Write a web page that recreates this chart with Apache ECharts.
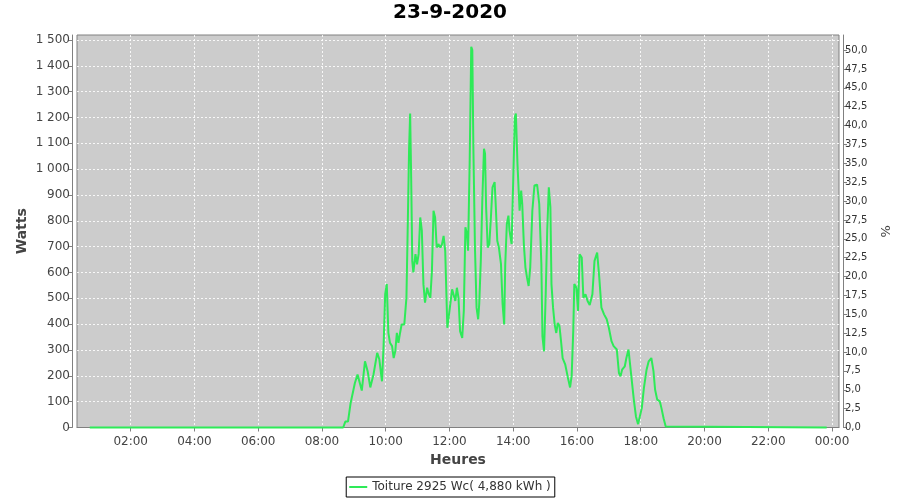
<!DOCTYPE html>
<html><head><meta charset="utf-8">
<script src="https://cdn.jsdelivr.net/npm/echarts@6/dist/echarts.min.js"></script>
<style>html,body{margin:0;padding:0;background:#fff}#c{width:900px;height:500px}</style>
</head><body><div id="c"></div>
<script>
const chartTitle = '23-9-2020';
const seriesName = 'Toiture 2925 Wc( 4,880 kWh )';
const times = ["00:43","08:40","08:44","08:49","08:54","09:02","09:07","09:10","09:15","09:21","09:26","09:31","09:37","09:44","09:48","09:53","09:56","09:59","10:02","10:05","10:08","10:12","10:15","10:18","10:21","10:24","10:27","10:30","10:35","10:39","10:41","10:44","10:46","10:48","10:50","10:52","10:56","10:59","11:02","11:05","11:08","11:11","11:14","11:18","11:21","11:24","11:27","11:30","11:33","11:36","11:39","11:43","11:46","11:49","11:52","11:56","12:00","12:05","12:08","12:11","12:14","12:17","12:20","12:24","12:27","12:30","12:33","12:35","12:38","12:41","12:43","12:45","12:48","12:51","12:54","12:56","12:59","13:02","13:05","13:07","13:09","13:12","13:15","13:18","13:21","13:25","13:27","13:30","13:33","13:37","13:40","13:43","13:45","13:48","13:51","13:53","13:57","14:00","14:03","14:05","14:08","14:12","14:15","14:17","14:20","14:23","14:26","14:29","14:32","14:36","14:40","14:45","14:49","14:53","14:55","14:58","15:01","15:04","15:07","15:10","15:12","15:15","15:18","15:21","15:24","15:27","15:30","15:33","15:38","15:43","15:47","15:50","15:53","15:55","15:59","16:02","16:05","16:09","16:12","16:16","16:20","16:24","16:29","16:33","16:38","16:42","16:46","16:51","16:56","17:00","17:05","17:09","17:15","17:19","17:22","17:25","17:30","17:33","17:37","17:40","17:44","17:47","17:51","17:55","17:58","18:02","18:06","18:11","18:15","18:20","18:24","18:27","18:31","18:36","18:39","18:43","18:47","18:50","23:50"];
const watts = [0,0,23,23,95,172,205,200,143,256,218,155,205,289,264,179,315,516,555,366,328,315,269,295,366,328,366,399,399,502,723,1079,1215,956,645,600,671,632,672,813,762,555,483,541,516,502,606,839,813,697,710,697,710,742,684,386,451,535,529,490,541,502,373,347,451,775,749,684,1021,1474,1461,1085,697,464,419,477,645,891,1079,1060,852,697,710,813,930,950,865,723,697,632,477,399,632,788,820,762,710,956,1202,1215,1021,839,917,865,710,619,580,548,619,839,937,940,865,632,354,295,502,762,930,852,555,464,399,366,405,393,334,269,243,192,155,200,373,555,541,451,671,658,502,516,490,474,516,645,677,580,464,438,419,386,334,315,302,211,198,224,237,269,302,243,166,108,43,13,13,75,153,224,256,269,218,147,108,101,75,36,4,0,0];
const hourTicks = [2,4,6,8,10,12,14,16,18,20,22,24];
const hourLabels = ["02:00","04:00","06:00","08:00","10:00","12:00","14:00","16:00","18:00","20:00","22:00","00:00"];
const wattTicks = [0,100,200,300,400,500,600,700,800,900,1000,1100,1200,1300,1400,1500];
const wattLabels = ["0","100","200","300","400","500","600","700","800","900","1 000","1 100","1 200","1 300","1 400","1 500"];
const pctTicks = [0,2.5,5,7.5,10,12.5,15,17.5,20,22.5,25,27.5,30,32.5,35,37.5,40,42.5,45,47.5,50];
const pctLabels = ["0,0","2,5","5,0","7,5","10,0","12,5","15,0","17,5","20,0","22,5","25,0","27,5","30,0","32,5","35,0","37,5","40,0","42,5","45,0","47,5","50,0"];

function toHours(t){const p=t.split(':');return +p[0]+(+p[1])/60;}
const data = times.map((t,i)=>[toHours(t), watts[i]]);
function lookup(ticks, labels){return v=>{const i=ticks.findIndex(x=>Math.abs(x-v)<1e-6);return i>=0?labels[i]:'';};}

const FONT = 'DejaVu Sans';
const chart = echarts.init(document.getElementById('c'), null, {renderer:'canvas'});
chart.setOption({
  animation:false,
  backgroundColor:'#ffffff',
  textStyle:{fontFamily:FONT},
  title:{text:chartTitle,left:'center',top:3,padding:0,
    textStyle:{fontFamily:FONT,fontSize:20,fontWeight:'bold',color:'#000'}},
  legend:{data:[{name:seriesName,icon:'rect'}],left:'center',top:477,padding:[4,4,4,3],
    borderColor:'#000',borderWidth:1,borderRadius:0,itemWidth:18,itemHeight:2,itemGap:5,
    textStyle:{fontFamily:FONT,fontSize:12,color:'#333'}},
  grid:{left:77,right:61,top:35,bottom:72.5,show:true,backgroundColor:'#cccccc',borderColor:'#808080',borderWidth:1,containLabel:false,outerBoundsMode:'none'},
  xAxis:{type:'value',min:0.316,max:24.22,offset:4.5,
    name:'Heures',nameLocation:'middle',nameGap:21,nameMoveOverlap:false,
    nameTextStyle:{fontFamily:FONT,fontSize:14,fontWeight:'bold',color:'#444'},
    axisLine:{show:true,lineStyle:{color:'#808080',width:1}},
    axisTick:{show:true,inside:false,length:4,customValues:hourTicks,lineStyle:{color:'#808080'}},
    axisLabel:{customValues:hourTicks,formatter:lookup(hourTicks,hourLabels),fontFamily:FONT,fontSize:12,color:'#444',margin:4},
    splitLine:{show:true,lineStyle:{color:'rgba(255,255,255,0.85)',type:[2,2],width:1}}},
  yAxis:[
    {type:'value',position:'left',min:0,max:1519.4,offset:5,
      name:'Watts',nameLocation:'middle',nameGap:43,nameRotate:90,nameMoveOverlap:false,
      nameTextStyle:{fontFamily:FONT,fontSize:14,fontWeight:'bold',color:'#444'},
      axisLine:{show:true,lineStyle:{color:'#808080',width:1}},
      axisTick:{show:true,inside:false,length:4,customValues:wattTicks,lineStyle:{color:'#808080'}},
      axisLabel:{customValues:wattTicks,formatter:lookup(wattTicks,wattLabels),fontFamily:FONT,fontSize:12,color:'#444',margin:2},
      splitLine:{show:true,lineStyle:{color:'rgba(255,255,255,0.85)',type:[2,2],width:1}}},
    {type:'value',position:'right',min:0,max:52.0,offset:4,
      name:'%',nameLocation:'middle',nameGap:37,nameRotate:90,nameMoveOverlap:false,
      nameTextStyle:{fontFamily:FONT,fontSize:13,color:'#444'},
      axisLine:{show:true,lineStyle:{color:'#808080',width:1}},
      axisTick:{show:true,inside:false,length:4,customValues:pctTicks,lineStyle:{color:'#808080'}},
      axisLabel:{customValues:pctTicks,formatter:lookup(pctTicks,pctLabels),fontFamily:FONT,fontSize:10,color:'#333',margin:2},
      splitLine:{show:false}}
  ],
  series:[{name:seriesName,type:'line',yAxisIndex:0,data:data,showSymbol:false,symbol:'none',clip:false,
    lineStyle:{color:'#2eea58',width:2},itemStyle:{color:'#2eea58'}}]
});
</script></body></html>
